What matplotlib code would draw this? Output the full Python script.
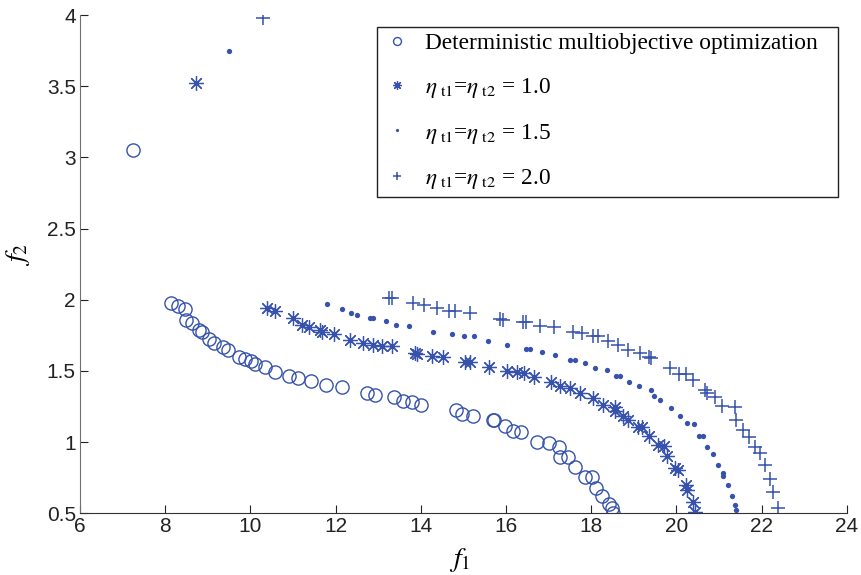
import matplotlib
matplotlib.use("Agg")
import matplotlib.pyplot as plt

# ---- data ----
det_f1 = [7.25, 8.14, 8.29, 8.47, 8.49, 8.64, 8.80, 8.86, 9.02, 9.15, 9.35, 9.48, 9.73, 9.87,
          10.01, 10.10, 10.34, 10.58, 10.91, 11.12, 11.42, 11.78, 12.16, 12.73, 12.93, 13.38,
          13.58, 13.80, 14.00, 14.83, 14.98, 15.23, 15.69, 15.73, 15.98, 16.16, 16.36, 16.72,
          17.00, 17.25, 17.28, 17.46, 17.63, 17.86, 18.03, 18.11, 18.26, 18.43, 18.50, 18.51]
det_f2 = [3.05, 1.974, 1.955, 1.932, 1.856, 1.838, 1.791, 1.775, 1.725, 1.697, 1.669, 1.650,
          1.599, 1.587, 1.573, 1.549, 1.530, 1.495, 1.462, 1.451, 1.427, 1.404, 1.385, 1.342,
          1.328, 1.317, 1.292, 1.279, 1.262, 1.224, 1.195, 1.182, 1.152, 1.152, 1.113, 1.077,
          1.070, 1.004, 0.993, 0.969, 0.894, 0.892, 0.824, 0.758, 0.758, 0.680, 0.622, 0.565,
          0.535, 0.500]

eta10_f1 = [8.73, 10.38, 10.58, 10.99, 11.22, 11.38, 11.64, 11.69, 11.97, 12.35, 12.65, 12.89,
            13.08, 13.32, 13.87, 13.91, 14.26, 14.53, 15.04, 15.16, 15.61, 16.02, 16.25, 16.42,
            16.66, 17.05, 17.27, 17.51, 17.74, 18.05, 18.27, 18.55, 18.55, 18.75, 18.87, 19.09,
            19.20, 19.37, 19.56, 19.70, 19.77, 19.97, 20.03, 20.22, 20.24, 20.38, 20.44]
eta10_f2 = [3.52, 1.944, 1.920, 1.873, 1.826, 1.807, 1.786, 1.775, 1.761, 1.720, 1.697, 1.685,
            1.678, 1.673, 1.627, 1.622, 1.603, 1.599, 1.563, 1.563, 1.528, 1.502, 1.490, 1.486,
            1.455, 1.425, 1.396, 1.377, 1.342, 1.307, 1.263, 1.248, 1.218, 1.182, 1.157, 1.103,
            1.103, 1.044, 0.981, 0.974, 0.899, 0.817, 0.805, 0.699, 0.664, 0.582, 0.511]

eta15_f1 = [9.50, 11.79, 12.14, 12.36, 12.50, 12.81, 12.89, 13.18, 13.42, 13.72, 14.28, 14.73,
            15.02, 15.26, 15.57, 16.02, 16.47, 16.57, 16.85, 17.14, 17.50, 17.61, 17.86, 18.09,
            18.37, 18.59, 18.68, 18.88, 19.13, 19.40, 19.48, 19.62, 19.88, 20.09, 20.26, 20.42,
            20.54, 20.62, 20.73, 20.87, 20.99, 21.10, 21.10, 21.22, 21.31, 21.38, 21.40]
eta15_f2 = [3.75, 1.967, 1.937, 1.904, 1.892, 1.873, 1.873, 1.849, 1.826, 1.819, 1.775, 1.756,
            1.744, 1.744, 1.713, 1.683, 1.657, 1.652, 1.634, 1.615, 1.580, 1.580, 1.556, 1.521,
            1.504, 1.467, 1.467, 1.425, 1.392, 1.363, 1.326, 1.293, 1.239, 1.180, 1.134, 1.129,
            1.044, 1.044, 0.969, 0.915, 0.840, 0.786, 0.763, 0.699, 0.622, 0.558, 0.523]

eta20_f1 = [10.30, 13.26, 13.32, 13.81, 14.08, 14.39, 14.67, 14.80, 15.16, 15.86, 15.92, 16.41,
            16.46, 16.80, 17.13, 17.58, 17.78, 18.05, 18.17, 18.40, 18.64, 18.87, 19.15, 19.37,
            19.41, 19.85, 20.07, 20.23, 20.40, 20.67, 20.71, 20.91, 21.08, 21.38, 21.41, 21.56,
            21.71, 21.85, 21.96, 22.08, 22.20, 22.28, 22.38]
eta20_f2 = [3.98, 2.014, 2.014, 1.979, 1.962, 1.939, 1.920, 1.920, 1.904, 1.868, 1.861, 1.845,
            1.845, 1.819, 1.810, 1.775, 1.768, 1.744, 1.744, 1.708, 1.685, 1.650, 1.627, 1.596,
            1.592, 1.521, 1.481, 1.479, 1.434, 1.368, 1.345, 1.314, 1.251, 1.244, 1.157, 1.087,
            1.039, 0.969, 0.923, 0.840, 0.739, 0.648, 0.535]

labels = ["Deterministic multiobjective optimization",
          r"$\eta_{\rm\ t1}$=$\eta_{\rm\ t2}$ = 1.0",
          r"$\eta_{\rm\ t1}$=$\eta_{\rm\ t2}$ = 1.5",
          r"$\eta_{\rm\ t1}$=$\eta_{\rm\ t2}$ = 2.0"]
xticks = [6, 8, 10, 12, 14, 16, 18, 20, 22, 24]
yticks = [0.5, 1, 1.5, 2, 2.5, 3, 3.5, 4]
ytick_labels = ["0.5", "1", "1.5", "2", "2.5", "3", "3.5", "4"]

blue = "#3652ad"

plt.rcParams["mathtext.fontset"] = "stix"
plt.rcParams["font.family"] = ["Liberation Sans", "DejaVu Sans"]

fig = plt.figure(figsize=(8.61, 5.75), dpi=100)
ax = fig.add_axes([0.0929, 0.1073, 0.8905, 0.8666])

ax.plot(det_f1, det_f2, linestyle="none", marker="o", markersize=9.5,
        markerfacecolor="none", markeredgecolor=blue, markeredgewidth=1.0, label=labels[0])
ax.plot(eta10_f1, eta10_f2, linestyle="none", marker=(8, 2, 0), markersize=10.5,
        color=blue, markeredgewidth=0.9, label=labels[1])
ax.plot(eta15_f1, eta15_f2, linestyle="none", marker="o", markersize=3.8,
        color=blue, markeredgewidth=0, label=labels[2])
ax.plot(eta20_f1, eta20_f2, linestyle="none", marker="+", markersize=10.5,
        color=blue, markeredgewidth=1.1, label=labels[3])

ax.set_xlim(6, 24)
ax.set_ylim(0.5, 4)
ax.set_xticks(xticks)
ax.set_yticks(yticks)
ax.set_xticklabels([str(t) for t in xticks])
ax.set_yticklabels(ytick_labels)
ax.tick_params(direction="in", length=6, width=0.8, labelsize=15, colors="#222222", pad=3)

for s in ["top", "right"]:
    ax.spines[s].set_visible(False)
ax.spines["left"].set_color("#707070")
ax.spines["bottom"].set_color("#333333")

ax.set_xlabel(r"$f_1$", fontsize=20)
ax.set_ylabel(r"$f_2$", fontsize=20)
ax.xaxis.set_label_coords(0.495, -0.065)
ax.yaxis.set_label_coords(-0.062, 0.52)

leg = ax.legend(loc="upper left", bbox_to_anchor=(0.387, 0.976, 0.602, 0.0), mode="expand",
                borderaxespad=0, fancybox=False, edgecolor="#222222", framealpha=1,
                prop={"family": "Liberation Serif", "size": 16.8}, markerscale=0.6,
                handlelength=1.2, handletextpad=0.6, labelspacing=0.93, borderpad=0.25)
leg.get_frame().set_linewidth(1.0)

fig.savefig("out.png", dpi=100)
